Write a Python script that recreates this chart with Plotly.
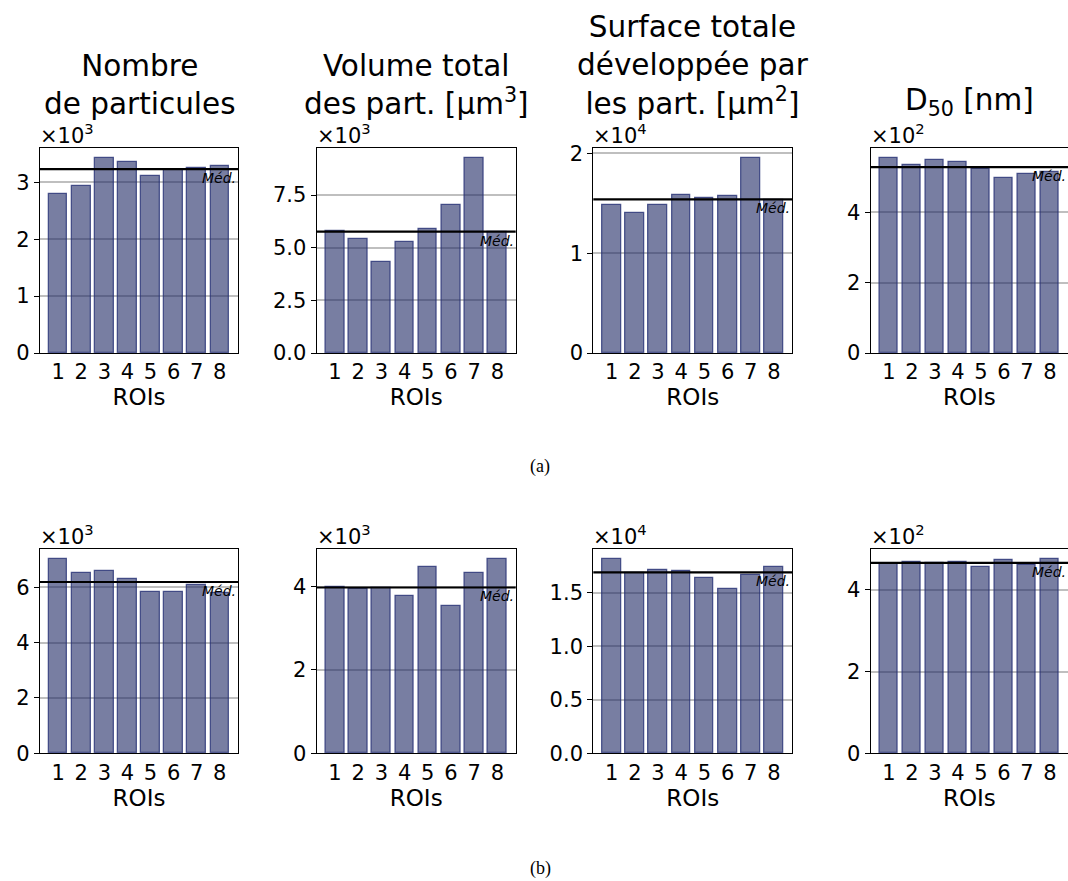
import numpy as np
import plotly.graph_objects as go

W, H = 1068, 881

rois = [1, 2, 3, 4, 5, 6, 7, 8]

# Row (a)
nb_a = [2800, 2940, 3430, 3350, 3110, 3210, 3250, 3290]
vol_a = [5780, 5410, 4320, 5270, 5900, 7020, 9270, 5740]
surf_a = [14870, 14030, 14800, 15810, 15480, 15680, 19560, 15300]
d50_a = [554.5, 533, 548, 542, 523, 498, 509, 513]
# Row (b)
nb_b = [7030, 6520, 6570, 6290, 5840, 5820, 6090, 5800]
vol_b = [3990, 3950, 3970, 3780, 4460, 3530, 4330, 4670]
surf_b = [18200, 16830, 17110, 17020, 16400, 15380, 16650, 17430]
d50_b = [463, 467, 465, 467, 455, 472, 460, 476]

titles = [
    "Nombre<br>de particules",
    "Volume total<br>des part. [µm<sup>3</sup>]",
    "Surface totale<br>développée par<br>les part. [µm<sup>2</sup>]",
    "D<sub>50</sub> [nm]",
]
exps = [3, 3, 4, 2]
tick_steps_a = [1, 2.5, 1, 2]
tick_steps_b = [2, 2, 0.5, 2]
xlabel = "ROIs"
med_label = "Méd."
captions = ["(a)", "(b)"]

# Layout geometry (pixels)
col_px = [(40, 238), (316.7, 515.7), (593.3, 792.3), (870.7, 1068)]
row_px = [(148, 353), (549, 753.3)]

FONT = "DejaVu Sans"
BAR_FILL = "rgba(30,40,100,0.6)"
BAR_EDGE = "rgba(35,45,115,0.75)"

fig = go.Figure()
rows = [[nb_a, vol_a, surf_a, d50_a], [nb_b, vol_b, surf_b, d50_b]]
steps = [tick_steps_a, tick_steps_b]

def fx(px):
    return px / W

def fy(py):
    return 1 - py / H

idx = 0
for r in range(2):
    for c in range(4):
        idx += 1
        vals = np.array(rows[r][c], dtype=float)
        scale = 10 ** exps[c]
        xa = "x" if idx == 1 else f"x{idx}"
        ya = "y" if idx == 1 else f"y{idx}"
        fig.add_trace(go.Bar(
            x=rois, y=vals, width=0.8, xaxis=xa, yaxis=ya,
            marker=dict(color=BAR_FILL, line=dict(color=BAR_EDGE, width=1.3)),
            showlegend=False,
        ))
        ymax = vals.max() * 1.05
        step = steps[r][c]
        tv = np.arange(0, ymax / scale + 1e-9, step)
        dec = 1 if step % 1 else 0
        ttext = [f"{t:.{dec}f}" for t in tv]
        med = float(np.median(vals))
        x0, x1 = col_px[c]
        y0, y1 = row_px[r]
        xkey = "xaxis" if idx == 1 else f"xaxis{idx}"
        ykey = "yaxis" if idx == 1 else f"yaxis{idx}"
        fig.update_layout(**{
            xkey: dict(
                domain=[fx(x0), fx(x1)], anchor=ya, range=[0.21, 8.79], automargin=False,
                tickvals=rois, ticktext=[str(v) for v in rois],
                showgrid=False, zeroline=False, showline=True, linecolor="black",
                linewidth=1.2, mirror=True, ticks="",
                tickfont=dict(family=FONT, size=21, color="black"),
                title=dict(text=xlabel, font=dict(family=FONT, size=23, color="black"), standoff=4),
            ),
            ykey: dict(
                domain=[fy(y1), fy(y0)], anchor=xa, range=[0, ymax], automargin=False,
                tickvals=list(tv * scale), ticktext=ttext,
                showgrid=True, gridcolor="rgba(0,0,0,0.25)", gridwidth=1.5,
                zeroline=False, showline=True, linecolor="black", linewidth=1.2,
                mirror=(c != 3), ticks="outside", ticklen=5, tickwidth=1.2, tickcolor="black",
                tickfont=dict(family=FONT, size=21, color="black"),
            ),
        })
        # median line
        fig.add_shape(type="line", xref=f"{xa} domain", yref=ya, x0=0, x1=1, y0=med, y1=med,
                      line=dict(color="black", width=2.2), layer="above")
        fig.add_annotation(xref=f"{xa} domain", yref=ya, x=1, y=med, xanchor="right", yanchor="top",
                           text=med_label, showarrow=False, yshift=1,
                           font=dict(family=FONT, size=14, color="black", style="italic"))
        # offset text
        fig.add_annotation(xref="paper", yref="paper", x=fx(x0 - 2), y=fy(y0 + 2), xanchor="left", yanchor="bottom",
                           text=f"×10<sup>{exps[c]}</sup>", showarrow=False,
                           font=dict(family=FONT, size=21, color="black"))
        if r == 0:
            fig.add_annotation(xref="paper", yref="paper", x=fx((x0 + min(x1 + 1, 1069)) / 2), y=fy(123),
                               xanchor="center", yanchor="bottom", text=titles[c], showarrow=False,
                               font=dict(family=FONT, size=29.5, color="black"))

fig.add_annotation(xref="paper", yref="paper", x=fx(540), y=fy(467), xanchor="center", yanchor="middle",
                   text=captions[0], showarrow=False, font=dict(family="Liberation Serif", size=18, color="black"))
fig.add_annotation(xref="paper", yref="paper", x=fx(540), y=fy(868), xanchor="center", yanchor="middle",
                   text=captions[1], showarrow=False, font=dict(family="Liberation Serif", size=18, color="black"))

fig.update_layout(width=W, height=H, margin=dict(l=0, r=0, t=0, b=0, autoexpand=False),
                  paper_bgcolor="white", plot_bgcolor="white", bargap=0)

fig.write_html("out.html", config={"displayModeBar": False},
               post_script="document.body.style.margin='0px';document.body.style.padding='0px';"
                           "document.body.style.overflow='hidden';")
